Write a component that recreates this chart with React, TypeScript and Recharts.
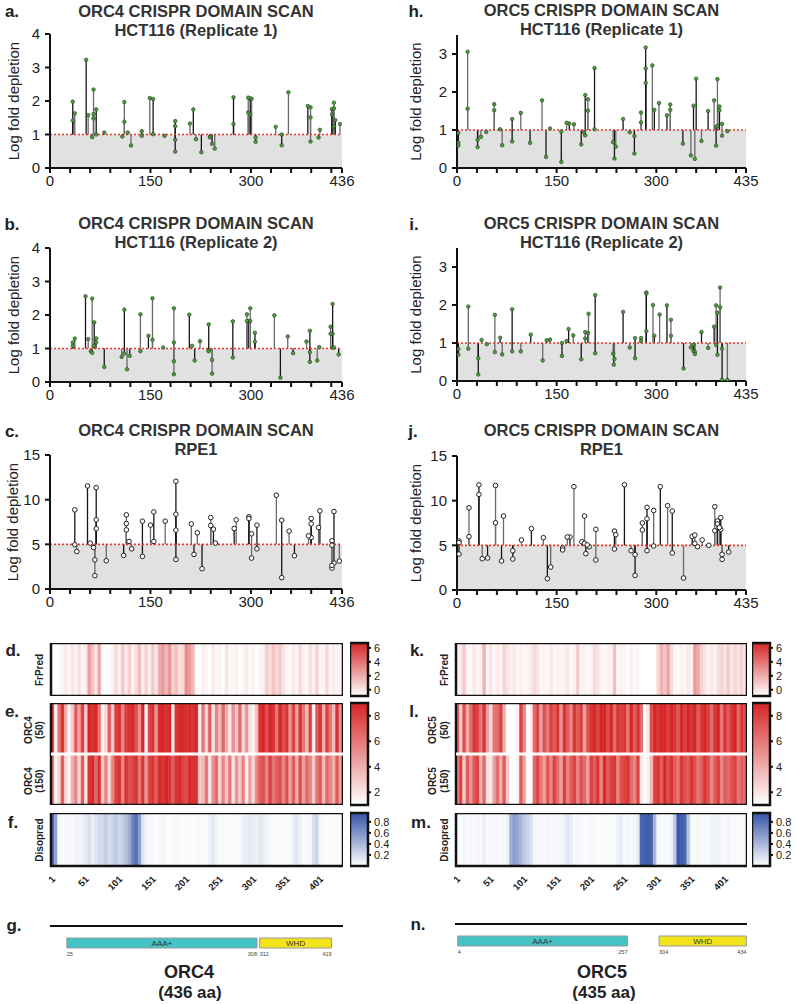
import React from "react";
import {
  ComposedChart,
  Scatter,
  ErrorBar,
  XAxis,
  YAxis,
  ReferenceArea,
  ReferenceLine,
  Label,
} from "recharts";

const FONT = "'Liberation Sans', Arial, Helvetica, sans-serif";

type Guide = [number, number];

// guide position (aa) and log fold depletion, one entry per guide
const ORC4_REP1: Guide[] = [
  [34, 1.98], [34, 1.42], [37, 1.63], [54, 3.23], [57, 1.58], [63, 0.92], [65, 2.34], [65, 1.61],
  [65, 1.48], [69, 1.75], [69, 1.0], [81, 1.06], [108, 0.94], [111, 1.97], [111, 1.38], [116, 1.06],
  [121, 0.67], [137, 1.1], [137, 0.96], [149, 2.09], [154, 2.06], [154, 1.01], [171, 0.96], [187, 1.4],
  [187, 1.25], [187, 0.84], [187, 0.49], [209, 1.33], [214, 1.75], [218, 0.86], [226, 0.47], [239, 0.94],
  [239, 0.91], [242, 0.72], [246, 0.58], [274, 2.11], [274, 1.31], [296, 2.1], [296, 1.66], [299, 2.07],
  [299, 1.6], [301, 2.07], [307, 0.91], [307, 0.78], [337, 1.23], [346, 1.0], [346, 0.68], [356, 2.26],
  [385, 1.85], [389, 1.81], [389, 1.51], [389, 0.79], [401, 0.91], [403, 1.14], [421, 1.76], [421, 1.6],
  [424, 1.95], [424, 1.78], [424, 1.24], [426, 1.43], [433, 1.31],
];

const ORC4_REP2: Guide[] = [
  [34, 1.18], [34, 1.08], [37, 1.3], [53, 2.56], [57, 1.28], [61, 0.92], [63, 2.49], [63, 0.87],
  [66, 1.78], [66, 1.08], [69, 1.3], [69, 1.18], [81, 0.45], [107, 0.75], [111, 2.16], [111, 0.85],
  [115, 0.38], [119, 0.78], [135, 2.02], [135, 0.92], [147, 1.38], [153, 2.5], [153, 1.26], [169, 1.03],
  [185, 2.2], [185, 1.18], [185, 0.62], [185, 0.23], [208, 2.01], [212, 1.08], [216, 0.64], [224, 1.22],
  [237, 1.72], [237, 0.94], [237, 0.92], [242, 0.66], [242, 0.25], [273, 1.81], [273, 0.73], [294, 2.02],
  [294, 1.82], [296, 1.82], [299, 2.2], [299, 1.82], [306, 1.47], [306, 1.2], [335, 1.99], [344, 0.13],
  [355, 1.36], [363, 0.86], [383, 1.21], [388, 1.53], [388, 0.89], [388, 0.6], [399, 0.64], [402, 1.04],
  [419, 1.65], [419, 1.44], [422, 2.33], [422, 1.44], [422, 1.03], [424, 1.03], [431, 0.82],
];

const ORC4_RPE1: Guide[] = [
  [37, 8.86], [37, 4.95], [40, 4.2], [56, 11.54], [60, 5.14], [65, 4.65], [67, 3.27], [67, 1.49],
  [69, 11.35], [69, 7.74], [69, 6.74], [84, 3.16], [110, 3.76], [114, 8.3], [114, 7.33], [114, 6.62],
  [118, 5.32], [122, 4.5], [138, 7.59], [138, 3.65], [150, 7.15], [155, 8.63], [155, 5.32], [172, 7.59],
  [188, 12.06], [188, 8.37], [188, 6.59], [188, 3.31], [211, 7.29], [215, 3.87], [220, 6.29], [227, 2.27],
  [240, 8.0], [240, 7.11], [244, 6.7], [247, 5.14], [275, 6.77], [278, 7.74], [297, 8.08], [297, 7.89],
  [301, 6.18], [301, 3.46], [309, 7.15], [309, 4.5], [338, 10.5], [346, 7.7], [346, 1.27], [357, 6.48],
  [365, 3.72], [386, 5.95], [390, 7.89], [390, 7.29], [390, 5.77], [401, 6.88], [403, 8.75], [421, 5.4],
  [421, 4.9], [421, 2.34], [421, 2.64], [424, 8.67], [424, 2.9], [432, 3.13],
];

const ORC5_REP1: Guide[] = [
  [2, 0.92], [2, 0.67], [2, 0.59], [16, 3.06], [16, 1.56], [31, 0.55], [31, 0.74], [36, 0.82],
  [44, 0.95], [56, 1.68], [56, 1.52], [65, 1.02], [68, 0.6], [83, 1.29], [83, 0.7], [96, 1.45],
  [110, 0.66], [128, 1.78], [134, 0.29], [140, 1.04], [157, 0.96], [157, 0.16], [165, 1.19], [169, 1.17],
  [176, 1.15], [187, 0.62], [191, 0.94], [193, 1.92], [193, 0.86], [197, 1.81], [197, 1.51], [207, 2.63],
  [207, 1.02], [235, 0.68], [237, 0.25], [239, 0.56], [250, 1.29], [260, 0.94], [267, 0.84], [267, 0.38],
  [277, 1.46], [277, 1.2], [284, 3.17], [284, 2.62], [284, 2.24], [294, 2.7], [297, 1.53], [304, 1.71],
  [316, 1.39], [321, 1.53], [321, 1.67], [340, 0.64], [352, 0.33], [356, 1.64], [358, 0.24], [360, 2.35],
  [368, 0.71], [378, 1.5], [387, 1.78], [390, 0.59], [390, 1.08], [392, 2.34], [392, 1.11], [395, 1.62],
  [395, 1.52], [399, 1.16], [399, 0.85], [407, 0.97],
];

const ORC5_REP2: Guide[] = [
  [2, 0.84], [2, 0.69], [17, 1.96], [17, 0.85], [32, 0.6], [32, 0.17], [37, 1.08], [45, 0.97],
  [57, 1.74], [57, 0.76], [65, 1.14], [68, 0.7], [83, 1.89], [83, 0.78], [96, 0.78], [111, 1.22],
  [129, 0.54], [135, 1.07], [140, 1.09], [158, 1.0], [158, 0.66], [165, 1.05], [168, 1.37], [175, 1.2],
  [187, 0.57], [193, 1.12], [193, 1.29], [197, 1.26], [198, 1.77], [208, 2.26], [208, 0.73], [235, 0.72],
  [236, 0.43], [237, 0.58], [250, 1.82], [260, 0.88], [268, 1.13], [268, 0.6], [277, 1.13], [277, 1.05],
  [285, 2.33], [285, 2.3], [285, 1.31], [295, 2.0], [297, 1.19], [305, 1.75], [316, 1.99], [322, 1.61],
  [322, 1.19], [341, 0.33], [352, 0.88], [356, 0.96], [356, 0.79], [358, 0.77], [358, 0.71], [368, 1.29],
  [378, 0.87], [387, 1.43], [390, 1.99], [390, 0.95], [392, 1.8], [392, 0.69], [396, 2.46], [396, 1.94],
  [399, 0.85], [399, 0.03], [407, 0.03],
];

const ORC5_RPE1: Guide[] = [
  [3, 5.48], [3, 5.3], [3, 4.03], [18, 9.2], [18, 5.97], [33, 11.77], [33, 10.7], [38, 3.5],
  [46, 3.58], [58, 11.7], [58, 7.53], [67, 3.25], [70, 8.28], [84, 4.4], [84, 3.47], [97, 5.6],
  [112, 6.87], [130, 5.86], [136, 1.27], [141, 2.57], [159, 4.7], [159, 4.48], [166, 5.93], [170, 5.93],
  [176, 11.57], [188, 5.4], [192, 8.28], [192, 5.22], [194, 4.07], [196, 5.04], [199, 4.85], [209, 6.79],
  [209, 3.36], [237, 6.6], [237, 4.59], [239, 6.19], [252, 11.79], [262, 4.4], [268, 3.96], [268, 1.64],
  [279, 7.5], [279, 6.72], [286, 9.25], [286, 7.98], [286, 4.4], [296, 8.9], [296, 4.93], [306, 11.57],
  [317, 9.44], [324, 8.84], [324, 4.14], [341, 1.34], [354, 6.0], [358, 6.15], [358, 5.22], [362, 4.85],
  [369, 5.6], [379, 5.0], [388, 9.33], [388, 6.64], [392, 7.73], [392, 7.39], [395, 7.0], [397, 8.1],
  [397, 6.79], [399, 3.43], [399, 3.99], [409, 4.25],
];

// per-residue tracks, averaged in 5-residue bins (1-5, 6-10, ...)
const ORC4_FRPRED = [
  -0.5, -0.3, -0.2, 0.1, 0.4, 0.0, 0.5, 0.1, 0.7, 0.0, 0.3, 2.8, 1.8, 0.5, 2.6, -0.4, -0.5, -0.2, 0.1,
  0.9, 0.2, 1.5, 0.4, 1.2, 0.1, 0.8, 1.8, 0.3, 1.1, 0.2, 1.5, 0.5, 2.4, 3.0, 2.0, 3.2, 1.2, 1.8, 0.8, 1.0,
  3.4, 3.0, 2.0, -0.1, -0.3, 0.2, 0.0, -0.3, 0.4, -0.1, 0.1, -0.3, 0.6, 0.0, -0.1, 0.2, -0.3, 0.0, 0.3,
  -0.1, 0.1, -0.3, 0.0, 0.2, 1.3, 0.8, 1.6, 1.0, 1.4, 0.6, 0.1, -0.1, 0.4, 0.0, 0.9, 0.1, -0.1, 0.7, 0.2,
  1.1, 0.0, 0.1, 1.0, -0.1, 0.3, 0.0, 0.2, -0.3,
];
const ORC4_SCAN50 = [
  8, 1.5, 6, 8.5, 4, 1.5, 3, 7, 4.5, 8, 3, 9, 8.5, 9, 6, 1.5, 2.5, 7, 3, 8, 8.5, 5.5, 8, 8.5, 9, 7.5,
  5, 9, 1.5, 8, 8.5, 5, 9, 9, 8.5, 9, 2, 8.5, 9, 9, 8.5, 9, 8.5, 9, 1.5, 6, 2.5, 7, 2, 5.5, 3.5, 6.5,
  4, 2, 5, 3, 6.5, 2.5, 5, 2, 1.5, 3.5, 8.5, 9, 7.5, 9, 8.5, 6, 9, 7.5, 8.5, 5, 8, 4.5, 8.5, 6, 3.5, 8,
  1.5, 7, 8.5, 4, 8, 6, 3.5, 8.5, 5, 8,
];
const ORC4_SCAN150 = [
  6, 1.5, 2.5, 7, 2.5, 1.5, 4, 5.5, 2.5, 7, 2, 8.5, 9, 6.5, 8.5, 3, 5.5, 2.5, 5.5, 8, 8.5, 5.5, 8.5,
  7.5, 8, 8.5, 6, 8.5, 5, 8, 8.5, 7, 9, 8.5, 9, 8.5, 7, 8.5, 9, 8, 7.5, 9, 8.5, 8.5, 3, 3.5, 6, 2, 5,
  6.5, 2.5, 5.5, 3, 6, 2, 5, 3, 5.5, 1.5, 4.5, 2.5, 5.5, 7, 7.5, 5.5, 8, 6, 7, 7.5, 5.5, 7.5, 4.5, 7,
  4, 7.5, 4.5, 6.5, 5.5, 3, 6, 7, 3.5, 6.5, 5.5, 4, 7, 4.5, 6.5,
];
const ORC4_DISO = [
  0.85, 0.5, 0.03, 0.03, 0.05, 0.04, 0.03, 0.06, 0.05, 0.08, 0.12, 0.18, 0.1, 0.15, 0.2, 0.22, 0.28,
  0.2, 0.25, 0.3, 0.22, 0.28, 0.35, 0.45, 0.7, 0.8, 0.55, 0.15, 0.06, 0.03, 0.04, 0.02, 0.03, 0.05, 0.03,
  0.02, 0.03, 0.04, 0.03, 0.02, 0.03, 0.03, 0.02, 0.03, 0.04, 0.03, 0.02, 0.08, 0.12, 0.06, 0.03, 0.02,
  0.03, 0.02, 0.03, 0.04, 0.03, 0.08, 0.1, 0.12, 0.1, 0.08, 0.12, 0.1, 0.06, 0.03, 0.02, 0.03, 0.02,
  0.03, 0.02, 0.03, 0.1, 0.14, 0.08, 0.03, 0.04, 0.05, 0.18, 0.22, 0.05, 0.03, 0.02, 0.03, 0.02, 0.03,
  0.02, 0.03,
];

const ORC5_FRPRED = [
  -0.1, 0.4, 1.4, 0.1, -0.1, 0.4, 0.0, 0.2, 2.2, 0.1, 0.6, -0.1, 0.4, 0.0, 1.1, 0.6, 0.2, 0.4, 0.0, 0.2,
  -0.1, 0.1, 0.4, 0.9, 0.6, -0.1, 0.1, 0.0, 0.4, -0.1, 0.2, 0.0, 0.1, 0.5, -0.1, 0.2, 1.4, 0.0, 0.2, -0.1,
  0.1, 0.9, 0.6, 0.0, -0.1, 0.2, 0.1, 1.8, -0.1, 0.1, 0.0, -0.2, 0.2, -0.1, 0.0, -0.5, -0.6, -0.5, -0.6,
  -0.3, 1.0, 2.2, 1.5, 2.6, 0.9, 0.1, -0.1, 0.2, 0.0, 0.4, 0.1, 3.0, 2.4, 1.1, 0.6, 0.0, 0.4, 0.1, 0.8,
  1.1, 0.6, 1.3, 0.4, 1.0, 0.6, 1.2, 0.4,
];
const ORC5_SCAN50 = [
  7, 3, 7.5, 4, 6.5, 8.5, 8, 6, 8.5, 4.5, 2.5, 6, 6.5, 8, 4, 1, 1, 1, 1.5, 8, 5.5, 1, 1.5, 6.5, 8, 4.5,
  7.5, 6, 8, 7, 8.5, 5, 8.5, 7, 5.5, 8.5, 7, 8, 4.5, 7.5, 8.5, 9, 8, 9, 9, 7.5, 9, 6.5, 8.5, 8, 8.5, 6,
  9, 7, 8.5, 6.5, 1, 2, 7.5, 9, 8.5, 9, 9, 8, 9, 8.5, 7, 9, 8, 9, 8.5, 9, 7, 8.5, 9, 8, 6.5, 8.5, 9, 6,
  8.5, 7, 8.5, 9, 6.5, 8.5, 7.5,
];
const ORC5_SCAN150 = [
  5.5, 8, 3, 7, 5, 7, 8, 4, 6.5, 2, 2, 4.5, 6.5, 4, 7, 3, 1, 1, 1.5, 7, 4.5, 1, 1, 6.5, 8, 6, 4.5, 7.5,
  5.5, 8, 6.5, 4.5, 8, 5.5, 7, 8, 5.5, 7.5, 6.5, 4.5, 8, 7, 8.5, 5.5, 9, 7, 8, 8.5, 5.5, 7.5, 8, 8.5,
  6.5, 5.5, 8, 2, 1, 1.5, 3.5, 8, 8.5, 7, 9, 7.5, 8.5, 7, 6, 8.5, 7.5, 7, 8.5, 7.5, 6, 7, 8.5, 7.5, 5.5,
  7, 8, 5.5, 7, 6.5, 7.5, 8, 6, 7, 6.5,
];
const ORC5_DISO = [
  0.04, 0.03, 0.05, 0.03, 0.04, 0.03, 0.05, 0.03, 0.1, 0.03, 0.04, 0.03, 0.05, 0.03, 0.04, 0.08, 0.45,
  0.55, 0.5, 0.4, 0.3, 0.25, 0.18, 0.05, 0.03, 0.04, 0.03, 0.05, 0.03, 0.04, 0.03, 0.05, 0.08, 0.15,
  0.1, 0.03, 0.04, 0.03, 0.02, 0.03, 0.04, 0.03, 0.02, 0.03, 0.04, 0.03, 0.02, 0.03, 0.08, 0.1, 0.03,
  0.04, 0.03, 0.05, 0.1, 0.85, 0.9, 0.9, 0.85, 0.4, 0.05, 0.03, 0.04, 0.03, 0.06, 0.3, 0.9, 0.9, 0.85,
  0.35, 0.04, 0.03, 0.05, 0.03, 0.04, 0.03, 0.06, 0.08, 0.06, 0.04, 0.03, 0.05, 0.03, 0.02, 0.03, 0.04,
  0.03,
];

const ORC4_DOMAINS = ["AAA+", "WHD"];
const ORC4_STARTS = [25, 312];
const ORC4_ENDS = [308, 419];
const ORC5_DOMAINS = ["AAA+", "WHD"];
const ORC5_STARTS = [4, 304];
const ORC5_ENDS = [257, 434];

const AA_TICKS = [1, 51, 101, 151, 201, 251, 301, 351, 401];
const BIN = 5;

const RED: [number, number, number] = [214, 38, 38];
const BLUE: [number, number, number] = [52, 84, 168];

function shade(rgb: [number, number, number], lo: number, hi: number) {
  return (v: number) => {
    const t = Math.max(0, Math.min(1, (v - lo) / (hi - lo)));
    const c = rgb.map((k) => Math.round(255 + (k - 255) * t));
    return `rgb(${c[0]},${c[1]},${c[2]})`;
  };
}

function stems(guides: Guide[], cut: number) {
  const sites = Array.from(new Set(guides.map((g) => g[0]))).sort((a, b) => a - b);
  return guides.map(([pos, val]) => ({
    pos,
    val,
    err: val >= cut ? [val - cut, 0] : [0, cut - val],
    shade: sites.indexOf(pos) % 2,
  }));
}

// invisible series so that charts made only of reference shapes get their axes
const Anchor = ({ data }: { data: { x: number; y: number }[] }) => (
  <Scatter data={data} shape={() => <g />} isAnimationActive={false} />
);

function Lollipop({
  guides, cut, yMax, yTicks, length, left, top, plotW, plotH, open, labelOffset,
}: any) {
  const pts = stems(guides, cut);
  const xTicks: number[] = [];
  for (let t = 0; t < length - 10; t += 30) xTicks.push(t);
  xTicks.push(length);
  const major = [0, 150, 300, length];
  const dot = (p: any) => (
    <circle
      cx={p.cx}
      cy={p.cy}
      r={open ? 2.3 : 1.8}
      fill={open ? "#fff" : "#4f9d3f"}
      stroke={open ? "#222" : "#1f3d1a"}
      strokeWidth={open ? 1 : 0.6}
    />
  );
  const axisStroke = { stroke: "#111", strokeWidth: 2 };
  return (
    <div style={{ position: "absolute", left, top: top - 6 }}>
      <ComposedChart
        width={50 + plotW + 24}
        height={12 + plotH + 30}
        margin={{ top: 12, right: 24, bottom: 0, left: 0 }}
      >
        <XAxis
          type="number"
          dataKey="pos"
          domain={[0, length]}
          ticks={xTicks}
          interval={0}
          tickFormatter={(v: number) => (major.includes(v) ? String(v) : "")}
          axisLine={axisStroke}
          tickLine={axisStroke}
          tickSize={5}
          tick={{ fontSize: 15, fill: "#222" }}
          height={30}
          allowDataOverflow
        />
        <YAxis
          type="number"
          dataKey="val"
          domain={[0, yMax]}
          ticks={yTicks}
          interval={0}
          width={50}
          axisLine={axisStroke}
          tickLine={axisStroke}
          tickSize={5}
          tickMargin={5}
          tick={{ fontSize: 15, fill: "#222" }}
          allowDataOverflow
        >
          <Label
            value="Log fold depletion"
            angle={-90}
            position="insideLeft"
            offset={labelOffset}
            fontSize={15}
            fill="#222"
            style={{ textAnchor: "middle", fontSize: 15 }}
          />
        </YAxis>
        <ReferenceArea y1={0} y2={cut} fill="#e1e1e1" fillOpacity={1} stroke="none" />
        <Scatter data={pts.filter((p) => p.shade === 0)} shape={dot} isAnimationActive={false}>
          <ErrorBar dataKey="err" direction="y" width={0} stroke="#151515" strokeWidth={1.3} isAnimationActive={false} />
        </Scatter>
        <Scatter data={pts.filter((p) => p.shade === 1)} shape={dot} isAnimationActive={false}>
          <ErrorBar dataKey="err" direction="y" width={0} stroke="#6a6a6a" strokeWidth={1.3} isAnimationActive={false} />
        </Scatter>
        <ReferenceLine y={cut} stroke="#e8382c" strokeWidth={1.6} strokeDasharray="2 2" />
      </ComposedChart>
    </div>
  );
}

function Heatmap({ rows, color, length, left, top, plotW, plotH, axis }: any) {
  const n = rows.length;
  const pad = 20;
  return (
    <div style={{ position: "absolute", left: left - pad, top }}>
      <ComposedChart
        width={plotW + pad}
        height={plotH + (axis ? 40 : 0)}
        margin={{ top: 0, right: 0, bottom: 0, left: pad }}
      >
        <XAxis
          type="number"
          dataKey="x"
          domain={[0.5, length + 0.5]}
          hide={!axis}
          ticks={AA_TICKS}
          interval={0}
          axisLine={false}
          tickLine={false}
          tickMargin={3}
          tick={{ angle: -45, textAnchor: "end", fontSize: 9.5, fontWeight: 700, fill: "#222" }}
          height={40}
          allowDataOverflow
        />
        <YAxis type="number" dataKey="y" domain={[0, n]} hide allowDataOverflow />
        {Anchor({ data: [{ x: 1, y: 0 }, { x: length, y: n }] })}
        {rows.map((row: number[], r: number) =>
          row.map((v, i) => {
            const c = color(v);
            return (
              <ReferenceArea
                key={`${r}-${i}`}
                x1={i * BIN + 0.5}
                x2={Math.min(i * BIN + BIN + 0.5, length + 0.5)}
                y1={n - r - 1}
                y2={n - r}
                fill={c}
                fillOpacity={1}
                stroke={c}
                strokeWidth={0.6}
              />
            );
          })
        )}
        {n > 1 && <ReferenceLine y={1} stroke="#fff" strokeWidth={3} />}
        <ReferenceArea
          x1={0.5}
          x2={length + 0.5}
          y1={0}
          y2={n}
          fill="none"
          stroke="#111"
          strokeWidth={2.5}
        />
      </ComposedChart>
    </div>
  );
}

function ColorBar({ id, rgb, lo, hi, ticks, left, top, plotH }: any) {
  return (
    <div style={{ position: "absolute", left, top: top - 6 }}>
      <ComposedChart width={18 + 32} height={plotH + 12} margin={{ top: 6, right: 0, bottom: 6, left: 0 }}>
        <defs>
          <linearGradient id={id} x1="0" y1="0" x2="0" y2="1">
            <stop offset="0" stopColor={`rgb(${rgb.join(",")})`} />
            <stop offset="1" stopColor="#fff" />
          </linearGradient>
        </defs>
        <XAxis type="number" dataKey="x" domain={[0, 1]} hide allowDataOverflow />
        <YAxis
          type="number"
          dataKey="y"
          orientation="right"
          domain={[lo, hi]}
          ticks={ticks}
          interval={0}
          width={32}
          axisLine={false}
          tickLine={{ stroke: "#111", strokeWidth: 2 }}
          tickSize={3}
          tickMargin={3}
          tick={{ fontSize: 11, fill: "#222" }}
          allowDataOverflow
        />
        {Anchor({ data: [{ x: 0, y: lo }, { x: 1, y: hi }] })}
        <ReferenceArea x1={0} x2={1} y1={lo} y2={hi} fill={`url(#${id})`} fillOpacity={1} stroke="#111" strokeWidth={2.5} />
      </ComposedChart>
    </div>
  );
}

function DomainMap({ length, names, starts, ends, left, top, plotW }: any) {
  const fills = ["#45c3c4", "#f3e31b"];
  const small = { fontSize: 5.5, fill: "#444" };
  return (
    <div style={{ position: "absolute", left, top }}>
      <ComposedChart width={plotW} height={45} margin={{ top: 0, right: 0, bottom: 0, left: 0 }}>
        <XAxis type="number" dataKey="x" domain={[0, length]} hide allowDataOverflow />
        <YAxis type="number" dataKey="y" domain={[0, 45]} hide allowDataOverflow />
        {Anchor({ data: [{ x: 0, y: 0 }, { x: length, y: 45 }] })}
        <ReferenceLine y={34} stroke="#111" strokeWidth={2} />
        {names.map((nm: string, i: number) => (
          <ReferenceArea
            key={nm}
            x1={starts[i]}
            x2={ends[i]}
            y1={12}
            y2={22}
            fill={fills[i]}
            fillOpacity={1}
            stroke="#9a9a9a"
            strokeWidth={1}
            label={{ value: nm, position: "center", fontSize: 8, fill: "#333" }}
          />
        ))}
        {names.map((nm: string, i: number) => (
          <ReferenceLine
            key={`${nm}-s`}
            segment={[{ x: starts[i], y: 4 }, { x: starts[i], y: 11 }]}
            stroke="none"
            label={{ value: String(starts[i]), position: "insideBottomLeft", offset: 0, ...small }}
          />
        ))}
        {names.map((nm: string, i: number) => (
          <ReferenceLine
            key={`${nm}-e`}
            segment={[{ x: ends[i], y: 4 }, { x: ends[i], y: 11 }]}
            stroke="none"
            label={{ value: String(ends[i]), position: "insideBottomRight", offset: 0, ...small }}
          />
        ))}
      </ComposedChart>
    </div>
  );
}

function Title({ left, width, top, lines }: any) {
  return (
    <div
      style={{
        position: "absolute", left, width, top, textAlign: "center", fontWeight: 700,
        fontSize: 16.5, lineHeight: "19px", color: "#333",
      }}
    >
      {lines.map((l: string) => (
        <div key={l}>{l}</div>
      ))}
    </div>
  );
}

function Tag({ x, y, text, size = 17, rotate = false, weight = 700 }: any) {
  return (
    <div
      style={{
        position: "absolute", left: x, top: y, whiteSpace: "nowrap", lineHeight: 1,
        fontSize: size, fontWeight: weight, color: "#222",
        transform: `translate(-50%, -50%)${rotate ? " rotate(-90deg)" : ""}`,
      }}
    >
      {text}
    </div>
  );
}

export default function App() {
  const red46 = shade(RED, -0.3, 6.7);
  const red19 = shade(RED, 1, 9);
  const blue = shade(BLUE, 0, 0.95);
  return (
    <div
      style={{
        position: "absolute", left: 0, top: 0, width: 796, height: 1004,
        background: "#fff", fontFamily: FONT, overflow: "hidden",
      }}
    >
      {/* ORC4 column */}
      <Tag x={12} y={11} text="a." />
      <Title left={50} width={292} top={2} lines={["ORC4 CRISPR DOMAIN SCAN", "HCT116 (Replicate 1)"]} />
      <Lollipop guides={ORC4_REP1} cut={1} yMax={4} yTicks={[0, 1, 2, 3, 4]} length={436}
        left={0} top={28} plotW={292} plotH={134} labelOffset={14} />

      <Tag x={12} y={224} text="b." />
      <Title left={50} width={292} top={214} lines={["ORC4 CRISPR DOMAIN SCAN", "HCT116 (Replicate 2)"]} />
      <Lollipop guides={ORC4_REP2} cut={1} yMax={4} yTicks={[0, 1, 2, 3, 4]} length={436}
        left={0} top={242} plotW={292} plotH={134} labelOffset={14} />

      <Tag x={12} y={431} text="c." />
      <Title left={50} width={292} top={421} lines={["ORC4 CRISPR DOMAIN SCAN", "RPE1"]} />
      <Lollipop guides={ORC4_RPE1} cut={5} yMax={15} yTicks={[0, 5, 10, 15]} length={436}
        left={0} top={449} plotW={292} plotH={134} labelOffset={13} open />

      <Tag x={13} y={650} text="d." />
      <Tag x={40} y={670} text="FrPred" size={10} rotate />
      <Heatmap rows={[ORC4_FRPRED]} color={red46} length={436} left={51} top={643} plotW={292} plotH={53} />
      <ColorBar id="gd" rgb={RED} lo={-0.9} hi={6.7} ticks={[0, 2, 4, 6]} left={350} top={643} plotH={53} />

      <Tag x={12} y={711} text="e." />
      <Tag x={29} y={730} text="ORC4" size={10} rotate />
      <Tag x={40} y={730} text="(50)" size={10} rotate />
      <Tag x={29} y={781} text="ORC4" size={10} rotate />
      <Tag x={40} y={781} text="(150)" size={10} rotate />
      <Heatmap rows={[ORC4_SCAN50, ORC4_SCAN150]} color={red19} length={436} left={51} top={703} plotW={292} plotH={102} />
      <ColorBar id="ge" rgb={RED} lo={1} hi={9} ticks={[2, 4, 6, 8]} left={350} top={703} plotH={102} />

      <Tag x={13} y={822} text="f." />
      <Tag x={40} y={840} text="Disopred" size={10} rotate />
      <Heatmap rows={[ORC4_DISO]} color={blue} length={436} left={51} top={813} plotW={292} plotH={53} axis />
      <ColorBar id="gf" rgb={BLUE} lo={0} hi={0.96} ticks={[0.2, 0.4, 0.6, 0.8]} left={350} top={813} plotH={53} />

      <Tag x={14} y={925} text="g." />
      <DomainMap length={436} names={ORC4_DOMAINS} starts={ORC4_STARTS} ends={ORC4_ENDS} left={50} top={915} plotW={293} />
      <Tag x={189} y={972} text="ORC4" size={18} />
      <Tag x={190} y={992} text="(436 aa)" size={17} />

      {/* ORC5 column */}
      <Tag x={416} y={11} text="h." />
      <Title left={457} width={289} top={1} lines={["ORC5 CRISPR DOMAIN SCAN", "HCT116 (Replicate 1)"]} />
      <Lollipop guides={ORC5_REP1} cut={1} yMax={3.5} yTicks={[0, 1, 2, 3]} length={435}
        left={407} top={29} plotW={289} plotH={133} labelOffset={9} />

      <Tag x={414} y={224} text="i." />
      <Title left={457} width={289} top={214} lines={["ORC5 CRISPR DOMAIN SCAN", "HCT116 (Replicate 2)"]} />
      <Lollipop guides={ORC5_REP2} cut={1} yMax={3.5} yTicks={[0, 1, 2, 3]} length={435}
        left={407} top={242} plotW={289} plotH={133} labelOffset={9} />

      <Tag x={413} y={431} text="j." />
      <Title left={457} width={289} top={421} lines={["ORC5 CRISPR DOMAIN SCAN", "RPE1"]} />
      <Lollipop guides={ORC5_RPE1} cut={5} yMax={15} yTicks={[0, 5, 10, 15]} length={435}
        left={407} top={450} plotW={289} plotH={134} labelOffset={9} open />

      <Tag x={417} y={650} text="k." />
      <Tag x={445} y={670} text="FrPred" size={10} rotate />
      <Heatmap rows={[ORC5_FRPRED]} color={red46} length={435} left={456} top={643} plotW={291} plotH={53} />
      <ColorBar id="gk" rgb={RED} lo={-0.9} hi={6.7} ticks={[0, 2, 4, 6]} left={752} top={643} plotH={53} />

      <Tag x={414} y={711} text="l." />
      <Tag x={433} y={730} text="ORC5" size={10} rotate />
      <Tag x={445} y={730} text="(50)" size={10} rotate />
      <Tag x={433} y={781} text="ORC5" size={10} rotate />
      <Tag x={445} y={781} text="(150)" size={10} rotate />
      <Heatmap rows={[ORC5_SCAN50, ORC5_SCAN150]} color={red19} length={435} left={456} top={703} plotW={291} plotH={102} />
      <ColorBar id="gl" rgb={RED} lo={1} hi={9} ticks={[2, 4, 6, 8]} left={752} top={703} plotH={102} />

      <Tag x={421} y={822} text="m." />
      <Tag x={445} y={840} text="Disopred" size={10} rotate />
      <Heatmap rows={[ORC5_DISO]} color={blue} length={435} left={456} top={813} plotW={291} plotH={53} axis />
      <ColorBar id="gm" rgb={BLUE} lo={0} hi={0.96} ticks={[0.2, 0.4, 0.6, 0.8]} left={752} top={813} plotH={53} />

      <Tag x={418} y={924} text="n." />
      <DomainMap length={435} names={ORC5_DOMAINS} starts={ORC5_STARTS} ends={ORC5_ENDS} left={455} top={913} plotW={292} />
      <Tag x={602} y={972} text="ORC5" size={18} />
      <Tag x={604} y={992} text="(435 aa)" size={17} />
    </div>
  );
}
